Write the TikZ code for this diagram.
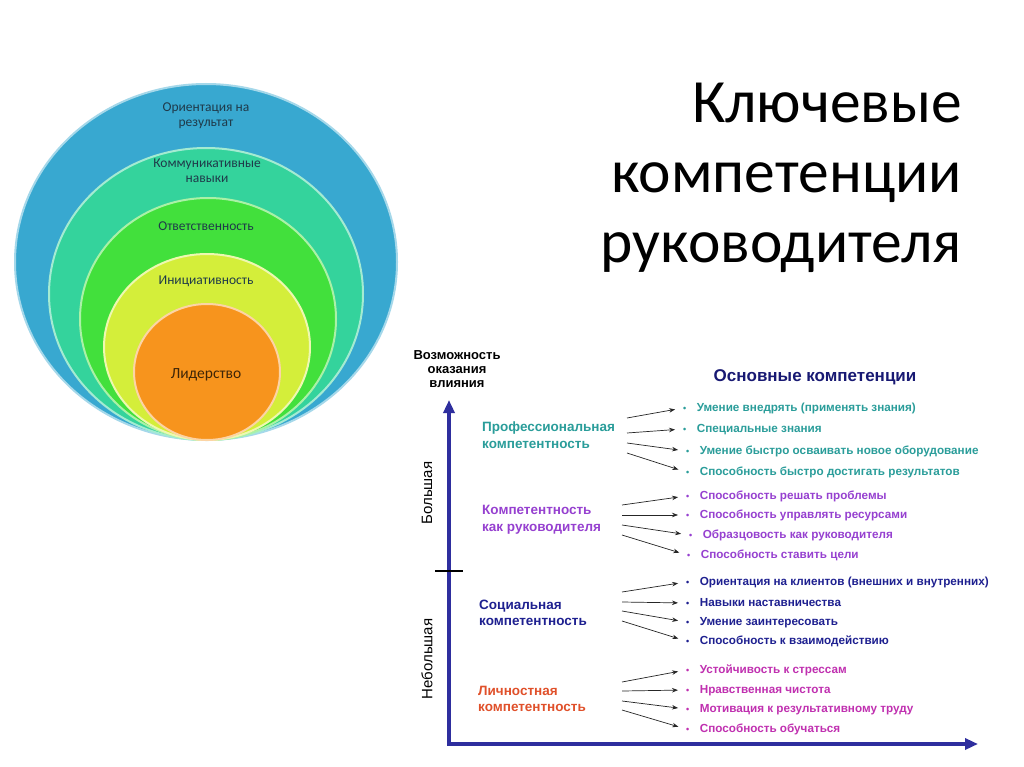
\documentclass[tikz,border=0pt]{standalone}
\usepackage{fontspec}
\setmainfont{Carlito}
\newfontfamily\arialf{Liberation Sans}
\usetikzlibrary{arrows.meta}
\definecolor{cblue}{HTML}{38A8D0}
\definecolor{cteal}{HTML}{34D39C}
\definecolor{cgreen}{HTML}{42E03C}
\definecolor{cyellow}{HTML}{D4EE3A}
\definecolor{corange}{HTML}{F7941D}
\definecolor{axisblue}{HTML}{2E2E9E}
\definecolor{tprof}{HTML}{2A9D9A}
\definecolor{tlead}{HTML}{9640D0}
\definecolor{tsoc}{HTML}{1E2090}
\definecolor{tpers}{HTML}{E0502A}
\definecolor{tmag}{HTML}{C030B0}
\definecolor{ctext}{HTML}{1F3A4A}
\tikzset{
  ring/.style={line width=2pt},
  ctxt/.style={font=\fontsize{13.5}{15}\selectfont, text=ctext, align=center, inner sep=0},
  item/.style={font=\arialf\bfseries\fontsize{11.7}{13}\selectfont, anchor=west, inner sep=0, text height=8.5pt, text depth=2.5pt},
  cat/.style={font=\arialf\bfseries\fontsize{13.5}{16.5}\selectfont, anchor=west, align=left, inner sep=0},
  conn/.style={draw=black!85, line width=0.7pt, -{Stealth[length=6pt,width=4.5pt]}, shorten >=8pt},
  axis/.style={draw=axisblue, line width=3.5pt, line join=miter}
}
\newcommand{\bl}{{\fontsize{9}{9}\selectfont\textbullet}\hspace{10.5pt}}
\begin{document}
\begin{tikzpicture}[x=1pt,y=-1pt]
\useasboundingbox (0,0) rectangle (1024,767);
\fill[white] (0,0) rectangle (1024,767);
% nested circles
\draw[ring, fill=cblue, draw=cblue!45!white] (206,262) ellipse [x radius=191, y radius=178];
\draw[ring, fill=cteal, draw=cteal!45!white] (206,294) ellipse [x radius=157, y radius=146];
\draw[ring, fill=cgreen, draw=cgreen!45!white] (208,319) ellipse [x radius=128, y radius=121];
\draw[ring, fill=cyellow, draw=cyellow!40!white] (207,347) ellipse [x radius=103, y radius=93];
\draw[ring, fill=corange, draw=corange!40!white] (207,372) ellipse [x radius=73, y radius=68];
\node[ctxt] (c1) at (206,116) {Ориентация на\\результат};
\node[ctxt] (c2) at (207,171) {Коммуникативные\\навыки};
\node[ctxt] (c3) at (206,226) {Ответственность};
\node[ctxt] (c4) at (206,281) {Инициативность};
\node[ctxt, text=black!75!corange, font=\fontsize{15.5}{17}\selectfont] (c5) at (206,375) {Лидерство};
% title
\node[font=\fontsize{61.5}{70}\selectfont, align=right, anchor=north east, inner sep=0] (title) at (962,83) {Ключевые\\компетенции\\руководителя};
% axes
\coordinate (ytop) at (449,400);
\coordinate (orig) at (449,744);
\coordinate (xend) at (978,744);
\draw[axis, {Triangle[length=13pt,width=11pt]}-{Triangle[length=13pt,width=11pt]}] (ytop) -- (orig) -- (xend);
\coordinate (tickL) at (435,571);
\coordinate (tickR) at (463,571);
\draw[line width=1.2pt] (tickL) -- (tickR);
\node[font=\arialf\bfseries\fontsize{13}{14}\selectfont, align=center, inner sep=0] (ylab) at (457,369) {Возможность\\оказания\\влияния};
\node[font=\arialf\fontsize{15}{16}\selectfont, rotate=90, inner sep=0] (big) at (427,493) {Большая};
\node[font=\arialf\fontsize{15}{16}\selectfont, rotate=90, inner sep=0] (small) at (427,659) {Небольшая};
\node[font=\arialf\bfseries\fontsize{17}{19}\selectfont, text=tsoc!80!black, inner sep=0] (head) at (815,377) {Основные компетенции};
% categories
\node[cat, text=tprof] (k1) at (482,435) {Профессиональная\\компетентность};
\node[cat, text=tlead] (k2) at (482,520) {Компетентность\\как руководителя};
\node[cat, text=tsoc] (k3) at (479,613) {Социальная\\компетентность};
\node[cat, text=tpers] (k4) at (478,699) {Личностная\\компетентность};
% items
\begin{scope}[every node/.append style={item}]
\node[text=tprof] (i11) at (683,408) {\bl Умение внедрять (применять знания)};
\node[text=tprof] (i12) at (683,429) {\bl Специальные знания};
\node[text=tprof] (i13) at (686,451) {\bl Умение быстро осваивать новое оборудование};
\node[text=tprof] (i14) at (686,472) {\bl Способность быстро достигать результатов};
\node[text=tlead] (i21) at (686,496) {\bl Способность решать проблемы};
\node[text=tlead] (i22) at (686,515) {\bl Способность управлять ресурсами};
\node[text=tlead] (i23) at (689,535) {\bl Образцовость как руководителя};
\node[text=tlead] (i24) at (687,555) {\bl Способность ставить цели};
\node[text=tsoc] (i31) at (686,582) {\bl Ориентация на клиентов (внешних и внутренних)};
\node[text=tsoc] (i32) at (686,603) {\bl Навыки наставничества};
\node[text=tsoc] (i33) at (686,622) {\bl Умение заинтересовать};
\node[text=tsoc] (i34) at (686,641) {\bl Способность к взаимодействию};
\node[text=tmag] (i41) at (686,670) {\bl Устойчивость к стрессам};
\node[text=tmag] (i42) at (686,690) {\bl Нравственная чистота};
\node[text=tmag] (i43) at (686,709) {\bl Мотивация к результативному труду};
\node[text=tmag] (i44) at (686,729) {\bl Способность обучаться};
\end{scope}
% arrow starts
\coordinate (s11) at (627,418);
\coordinate (s12) at (627,433);
\coordinate (s13) at (627,443);
\coordinate (s14) at (627,453);
\coordinate (s21) at (622,505);
\coordinate (s22) at (622,515);
\coordinate (s23) at (622,525);
\coordinate (s24) at (622,535);
\coordinate (s31) at (622,592);
\coordinate (s32) at (622,602);
\coordinate (s33) at (622,611);
\coordinate (s34) at (622,621);
\coordinate (s41) at (622,682);
\coordinate (s42) at (622,691);
\coordinate (s43) at (622,701);
\coordinate (s44) at (622,710);
\foreach \g in {1,2,3,4}{
  \foreach \k in {1,2,3,4}{
    \draw[conn] (s\g\k) -- (i\g\k.west);
  }
}
\end{tikzpicture}
\end{document}
